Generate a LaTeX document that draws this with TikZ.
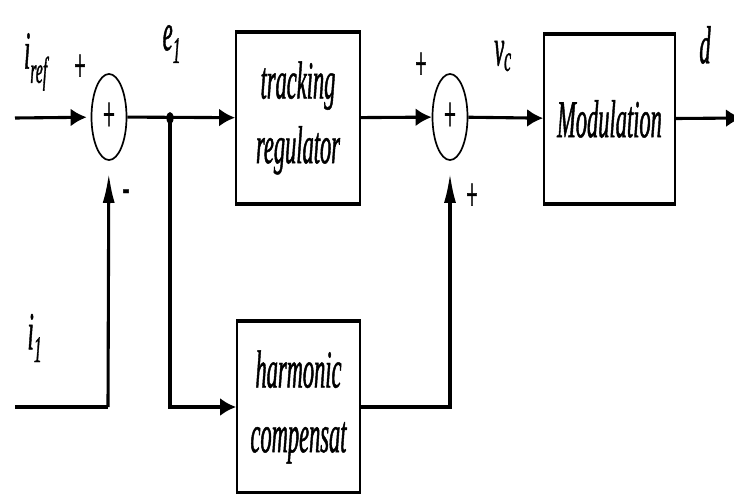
\documentclass[tikz,border=0pt]{standalone}
\usepackage{fontspec}
\newfontfamily\blockfont[FakeStretch=0.42, FakeBold=0.8]{Liberation Serif}
\usetikzlibrary{arrows.meta, shapes.geometric}

\begin{document}
\begin{tikzpicture}[x=0.025cm, y=-0.025cm,
    blk/.style={draw, line width=1.2pt, inner sep=0pt, align=center,
        minimum width=3.1cm, minimum height=4.25cm,
        font=\fontsize{38}{46}\blockfont\itshape},
    sumnode/.style={draw, ellipse, line width=1.2pt, inner sep=0pt,
        minimum width=0.875cm, minimum height=2.15cm,
        font=\fontsize{36}{40}\blockfont},
    lbl/.style={font=\fontsize{38}{44}\blockfont\itshape},
    sgn/.style={font=\fontsize{34}{40}\blockfont},
    sig/.style={line width=2.2pt},
    harr/.style={sig, -{Latex[length=0.4cm, width=0.45cm]}},
    varr/.style={sig, -{Latex[length=0.75cm, width=0.3cm]}, shorten >=0.3cm}]
        \useasboundingbox (0,0) rectangle (734,493);
        \coordinate (iref) at (15,118);
        \coordinate (ione) at (15,407);
        \coordinate (ionec) at (108,407);
        \coordinate (out) at (742,118);
        \node[sumnode] (sumA) at (109,117) {+};
        \node[sumnode] (sumB) at (450,117) {+};
        \node[blk] (track) at (298,118) {tracking\\regulator};
        \node[blk, minimum width=3.275cm, minimum height=4.2cm] (modul) at (609.5,119) {Modulation};
        \node[blk, minimum width=3.075cm] (harm) at (298.5,407) {harmonic\\compensat};
        \foreach \b in {track, modul, harm}
            \draw[line width=3pt] (\b.north west) -- (\b.north east) (\b.south west) -- (\b.south east);
        \node[fill, ellipse, inner sep=0pt, minimum width=0.18cm, minimum height=0.3cm] (branch) at (170,118) {};
        \draw[harr, shorten >=0.1cm] (iref) -- (sumA);
        \draw[harr] (sumA) -- (track);
        \draw[harr] (track) -- (sumB);
        \draw[harr] (sumB) -- (modul);
        \draw[harr] (modul) -- (out);
        \draw[sig] (ione) -- (ionec);
        \draw[varr] (ionec) -- (sumA);
        \draw[harr] (branch.center) |- (harm);
        \draw[varr] (harm.east) -| (sumB);
        \node[lbl] (lirefl) at (36,62) {i\textsubscript{ref}};
        \node[lbl] (lel) at (172,44) {e\textsubscript{1}};
        \node[lbl] (lvc) at (503,56) {v\textsubscript{c}};
        \node[lbl] (ld) at (705,45) {d};
        \node[lbl] (lione) at (35,338) {i\textsubscript{1}};
        \node[sgn] (pA) at (80,68) {+};
        \node[sgn] (mA) at (126,196) {-};
        \node[sgn] (pB) at (421,66) {+};
        \node[sgn] (qB) at (472,197) {+};
    \end{tikzpicture}
\end{document}
